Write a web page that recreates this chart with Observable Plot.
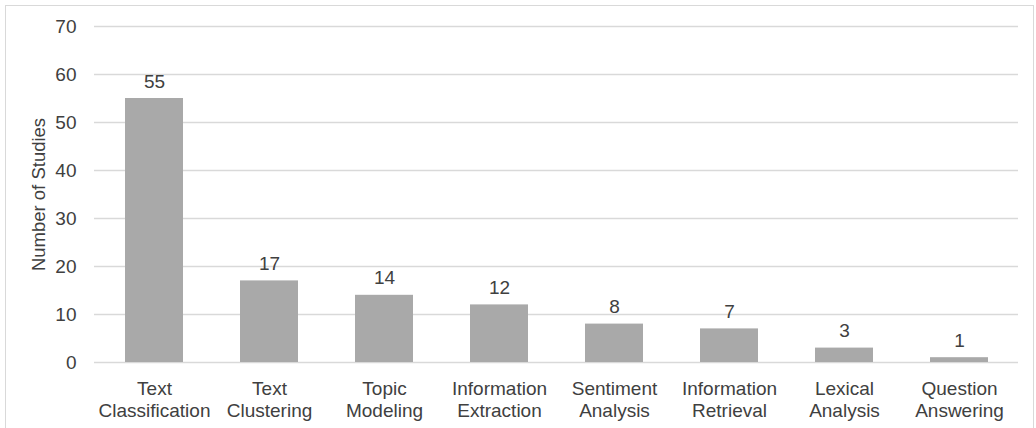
<!DOCTYPE html>
<html>
<head>
<meta charset="utf-8">
<script src="https://cdn.jsdelivr.net/npm/d3@7"></script>
<script src="https://cdn.jsdelivr.net/npm/@observablehq/plot@0.6"></script>
<style>
  html, body { margin: 0; padding: 0; background: #fff; overflow: hidden; }
  #wrap { position: relative; width: 1036px; height: 428px; }
  #border { position: absolute; left: 5px; top: 5px; width: 1029px; height: 440px; border: 1px solid #d9d9d9; box-sizing: border-box; pointer-events: none; }
  #chart svg { display: block; }
</style>
</head>
<body>
<div id="wrap">
  <div id="border"></div>
  <div id="chart"></div>
</div>
<script>
const categories = ["Text\nClassification", "Text\nClustering", "Topic\nModeling", "Information\nExtraction", "Sentiment\nAnalysis", "Information\nRetrieval", "Lexical\nAnalysis", "Question\nAnswering"];
const values = [55, 17, 14, 12, 8, 7, 3, 1];
const yTicks = [0, 10, 20, 30, 40, 50, 60, 70];
const yLabel = "Number of Studies";

const data = categories.map((c, i) => ({category: c, value: values[i]}));

const chart = Plot.plot({
  width: 1036,
  height: 428,
  marginLeft: 94,
  marginRight: 18,
  marginTop: 26,
  marginBottom: 66,
  style: {fontFamily: "Liberation Sans, Arial, sans-serif", fontSize: "19px", color: "#404040", background: "transparent"},
  x: {domain: categories, paddingInner: 0.5, paddingOuter: 0.25, label: null},
  y: {domain: [0, 70], ticks: yTicks, label: null},
  marks: [
    Plot.ruleY(yTicks, {stroke: "#d9d9d9", strokeWidth: 1.3}),
    Plot.barY(data, {x: "category", y: "value", fill: "#a9a9a9"}),
    Plot.text(data, {x: "category", y: "value", text: d => String(d.value), dy: -17, fill: "#404040", fontSize: 19}),
    Plot.axisY({ticks: yTicks, tickSize: 0, tickPadding: 18, label: null, fontSize: 19, fill: "#404040"}),
    Plot.axisX({tickSize: 0, tickPadding: 17, label: null, fontSize: 19, fill: "#404040", lineHeight: 1.16}),
    Plot.text([yLabel], {frameAnchor: "left", dx: -55, rotate: -90, textAnchor: "middle", text: d => d, fontSize: 18.5, fill: "#404040"})
  ]
});
document.getElementById("chart").appendChild(chart);
</script>
</body>
</html>
